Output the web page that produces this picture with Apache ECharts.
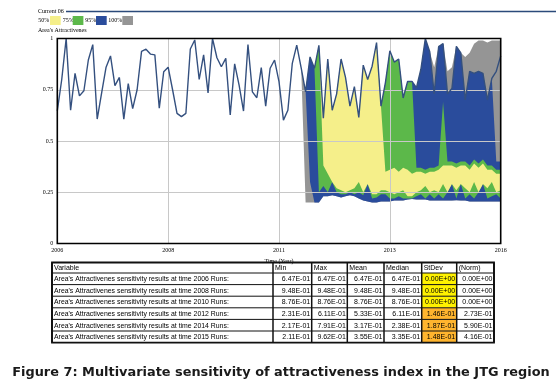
<!DOCTYPE html>
<html>
<head>
<meta charset="utf-8">
<script src="https://cdn.jsdelivr.net/npm/echarts@6/dist/echarts.min.js"></script>
<style>
  html, body { margin: 0; padding: 0; background: #fff; }
  #chart { width: 556px; height: 389px; }
</style>
</head>
<body>
<div id="chart"></div>
<script>
// saves every 0.1 year, 2006 -> 2016
const years = Array.from({ length: 101 }, (_, i) => (2006 + i / 10).toFixed(1));

// "Current 06" run
const current06 = [
  0.647, 0.80, 1.00, 0.65, 0.83, 0.72, 0.745, 0.895, 0.97, 0.607,
  0.735, 0.86, 0.915, 0.77, 0.81, 0.607, 0.78, 0.658, 0.75, 0.937,
  0.948, 0.924, 0.92, 0.66, 0.838, 0.86, 0.75, 0.635, 0.619, 0.635,
  0.949, 0.993, 0.80, 0.92, 0.735, 1.00, 0.906, 0.862, 0.903, 0.627,
  0.876, 0.773, 0.646, 0.971, 0.74, 0.711, 0.858, 0.67, 0.855, 0.895,
  0.79, 0.602, 0.65, 0.879, 0.968, 0.857, 0.74, 0.91, 0.855, 0.967,
  0.611, 0.90, 0.65, 0.73, 0.90, 0.81, 0.67, 0.765, 0.615, 0.87,
  0.80, 0.865, 0.98, 0.67, 0.785, 0.94, 0.885, 0.90, 0.71, 0.79,
  0.791, 0.76, 0.85, 1.00, 0.935, 0.73, 0.96, 0.975, 0.73, 0.756,
  0.962, 0.93, 0.70, 0.84, 0.83, 0.84, 0.83, 0.70, 0.805, 0.84,
  0.915
];

// sensitivity bands start at index 55 (2011.5)
const bandStart = 55;

const high100 = [
  0.857, 0.74, 0.91, 0.855, 0.967, 0.611, 0.90, 0.65, 0.73, 0.90,
  0.81, 0.67, 0.765, 0.615, 0.87, 0.80, 0.865, 0.98, 0.67, 0.785,
  0.94, 0.885, 0.90, 0.71, 0.79, 0.791, 0.76, 0.85, 1.00, 0.935,
  0.86, 0.96, 0.975, 0.84, 0.86, 0.962, 0.93, 0.91, 0.93, 0.975,
  0.99, 0.99, 0.98, 0.99, 0.99, 0.99
];
const low100 = [
  0.857, 0.20, 0.20, 0.20, 0.20, 0.231, 0.23, 0.235, 0.23, 0.225,
  0.23, 0.235, 0.23, 0.22, 0.21, 0.205, 0.20, 0.20, 0.205, 0.205,
  0.205, 0.21, 0.21, 0.21, 0.215, 0.217, 0.215, 0.215, 0.215, 0.21,
  0.21, 0.21, 0.21, 0.21, 0.21, 0.211, 0.21, 0.21, 0.205, 0.205,
  0.205, 0.205, 0.205, 0.205, 0.205, 0.205
];
const high95 = [
  0.857, 0.74, 0.91, 0.855, 0.967, 0.611, 0.90, 0.65, 0.73, 0.90,
  0.81, 0.67, 0.765, 0.615, 0.87, 0.80, 0.865, 0.98, 0.67, 0.785,
  0.94, 0.885, 0.90, 0.71, 0.79, 0.791, 0.76, 0.85, 1.00, 0.935,
  0.73, 0.96, 0.975, 0.73, 0.756, 0.962, 0.93, 0.70, 0.84, 0.83,
  0.84, 0.83, 0.70, 0.805, 0.40, 0.40
];
const low95 = [
  0.857, 0.74, 0.30, 0.20, 0.20, 0.231, 0.23, 0.235, 0.23, 0.225,
  0.23, 0.235, 0.23, 0.22, 0.21, 0.205, 0.20, 0.20, 0.205, 0.205,
  0.205, 0.21, 0.21, 0.21, 0.215, 0.217, 0.215, 0.215, 0.215, 0.21,
  0.21, 0.21, 0.21, 0.21, 0.21, 0.211, 0.21, 0.21, 0.205, 0.205,
  0.205, 0.205, 0.205, 0.205, 0.205, 0.205
];
const high75 = [
  0.857, 0.74, 0.91, 0.855, 0.967, 0.611, 0.90, 0.65, 0.73, 0.90,
  0.81, 0.67, 0.765, 0.615, 0.87, 0.80, 0.865, 0.98, 0.67, 0.785,
  0.94, 0.885, 0.90, 0.71, 0.79, 0.791, 0.37, 0.37, 0.36, 0.37,
  0.37, 0.38, 0.69, 0.40, 0.40, 0.39, 0.40, 0.40, 0.38, 0.41,
  0.39, 0.41, 0.38, 0.38, 0.36, 0.36
];
const low75 = [
  0.857, 0.74, 0.91, 0.855, 0.25, 0.28, 0.25, 0.30, 0.25, 0.24,
  0.24, 0.25, 0.24, 0.25, 0.235, 0.29, 0.22, 0.225, 0.24, 0.24,
  0.22, 0.22, 0.23, 0.22, 0.22, 0.22, 0.23, 0.24, 0.22, 0.24,
  0.22, 0.24, 0.22, 0.25, 0.29, 0.22, 0.29, 0.22, 0.24, 0.22,
  0.25, 0.29, 0.22, 0.23, 0.24, 0.22
];
const high50 = [
  0.857, 0.74, 0.91, 0.855, 0.967, 0.611, 0.90, 0.65, 0.73, 0.90,
  0.81, 0.67, 0.765, 0.615, 0.87, 0.80, 0.865, 0.98, 0.67, 0.35,
  0.36, 0.37, 0.35, 0.37, 0.36, 0.34, 0.35, 0.35, 0.34, 0.35,
  0.35, 0.36, 0.38, 0.38, 0.38, 0.37, 0.38, 0.38, 0.36, 0.39,
  0.37, 0.39, 0.36, 0.36, 0.34, 0.34
];
const low50 = [
  0.857, 0.74, 0.91, 0.855, 0.967, 0.38, 0.34, 0.30, 0.27, 0.26,
  0.25, 0.26, 0.27, 0.30, 0.25, 0.29, 0.24, 0.24, 0.26, 0.26,
  0.25, 0.24, 0.25, 0.26, 0.23, 0.23, 0.25, 0.26, 0.28, 0.25,
  0.26, 0.25, 0.29, 0.25, 0.29, 0.26, 0.29, 0.27, 0.25, 0.30,
  0.25, 0.29, 0.27, 0.30, 0.25, 0.26
];

const bandLabels = ['50%', '75%', '95%', '100%'];

// statistics table
const tableYears = [2006, 2008, 2010, 2012, 2014, 2015];
const tableMin = ['6.47E-01', '9.48E-01', '8.76E-01', '2.31E-01', '2.17E-01', '2.11E-01'];
const tableMax = ['6.47E-01', '9.48E-01', '8.76E-01', '6.11E-01', '7.91E-01', '9.62E-01'];
const tableMean = ['6.47E-01', '9.48E-01', '8.76E-01', '5.33E-01', '3.17E-01', '3.55E-01'];
const tableMedian = ['6.47E-01', '9.48E-01', '8.76E-01', '6.11E-01', '2.38E-01', '3.35E-01'];
const tableStDev = ['0.00E+00', '0.00E+00', '0.00E+00', '1.46E-01', '1.87E-01', '1.48E-01'];
const tableNorm = ['0.00E+00', '0.00E+00', '0.00E+00', '2.73E-01', '5.90E-01', '4.16E-01'];

const COLORS = { y: '#f5ef8a', g: '#5cb84a', b: '#2a4c9c', k: '#959595' };
const serif = 'Liberation Serif';
const sans = 'Liberation Sans';

const G = { left: 57.3, top: 38.5, width: 443.4, height: 205 };

const pad = arr => Array(bandStart).fill(null).concat(arr);

function band(name, low, high, color) {
  return [
    {
      name: name + '_base', type: 'line', stack: name, data: pad(low),
      symbol: 'none', lineStyle: { opacity: 0 }, silent: true, z: 2
    },
    {
      name: name, type: 'line', stack: name,
      data: pad(high.map((v, i) => +(v - low[i]).toFixed(4))),
      symbol: 'none', lineStyle: { opacity: 0 },
      areaStyle: { color: color, opacity: 1 }, silent: true, z: 2
    }
  ];
}

const chart = echarts.init(document.getElementById('chart'));

// header: run name, legend, variable name
const header = [
  { type: 'text', x: 38, y: 11.5, style: { text: 'Current 06', font: '6px ' + serif, fill: '#000', verticalAlign: 'middle' } },
  { type: 'line', shape: { x1: 66, y1: 11.5, x2: 556, y2: 11.5 }, style: { stroke: '#2b4a7a', lineWidth: 1.4 } },
  { type: 'text', x: 38, y: 30.5, style: { text: "Area's Attractivenes", font: '6px ' + serif, fill: '#000', verticalAlign: 'middle' } }
];
const legendX = [38.3, 62.7, 85.3, 108.3];
const legendBoxX = [50, 72.7, 96, 122.3];
const legendColors = [COLORS.y, COLORS.g, COLORS.b, COLORS.k];
bandLabels.forEach((t, i) => {
  header.push({ type: 'text', x: legendX[i], y: 20.5, style: { text: t, font: '6px ' + serif, fill: '#000', verticalAlign: 'middle' } });
  header.push({ type: 'rect', shape: { x: legendBoxX[i], y: 16, width: 10.7, height: 9 }, style: { fill: legendColors[i] } });
});

// plot frame
const frame = {
  type: 'rect', z: 100, silent: true,
  shape: { x: G.left, y: G.top, width: G.width, height: G.height },
  style: { fill: 'none', stroke: '#000', lineWidth: 1.6 }
};

// table
const colX = [52, 273, 311.7, 347.3, 384, 421.7, 456.7, 494];
const tTop = 262.5, hdrH = 10.5, rowH = 11.6;
const headers = ['Variable', 'Min', 'Max', 'Mean', 'Median', 'StDev', '(Norm)'];
const table = [];
const tBottom = tTop + hdrH + rowH * tableYears.length;
tableStDev.forEach((v, r) => {
  table.push({
    type: 'rect', z: 10,
    shape: { x: colX[5], y: tTop + hdrH + r * rowH, width: colX[6] - colX[5], height: rowH },
    style: { fill: r < 3 ? '#fff200' : '#ffb52e' }
  });
});
headers.forEach((h, c) => {
  table.push({ type: 'text', z: 12, x: colX[c] + 2, y: tTop + hdrH / 2 + 0.5, style: { text: h, font: '7px ' + sans, fill: '#000', verticalAlign: 'middle' } });
});
tableYears.forEach((yr, r) => {
  const cy = tTop + hdrH + rowH * (r + 0.5) + 0.5;
  const cells = [tableMin[r], tableMax[r], tableMean[r], tableMedian[r], tableStDev[r], tableNorm[r]];
  table.push({ type: 'text', z: 12, x: colX[0] + 2, y: cy, style: { text: "Area's Attractivenes sensitivity results at time " + yr + ' Runs:', font: '6.9px ' + sans, fill: '#000', verticalAlign: 'middle' } });
  cells.forEach((v, c) => {
    table.push({ type: 'text', z: 12, x: colX[c + 2] - 1.5, y: cy, style: { text: v, font: '7px ' + sans, fill: '#000', align: 'right', verticalAlign: 'middle' } });
  });
});
for (let r = 1; r <= tableYears.length; r++) {
  const y = tTop + hdrH + rowH * (r - 1);
  table.push({ type: 'line', z: 14, shape: { x1: colX[0], y1: y, x2: colX[7], y2: y }, style: { stroke: '#111', lineWidth: 1 } });
}
colX.forEach((x, c) => {
  table.push({ type: 'line', z: 14, shape: { x1: x, y1: tTop, x2: x, y2: tBottom }, style: { stroke: '#111', lineWidth: c === 0 || c === 7 ? 1.8 : 1.5 } });
});
table.push({ type: 'rect', z: 14, shape: { x: colX[0], y: tTop, width: colX[7] - colX[0], height: tBottom - tTop }, style: { fill: 'none', stroke: '#111', lineWidth: 1.8 } });

const caption = {
  type: 'text', x: 281, y: 372.5,
  style: { text: 'Figure 7: Multivariate sensitivity of attractiveness index in the JTG region', font: 'bold 12.9px "DejaVu Sans"', fill: '#1a1a1a', align: 'center', verticalAlign: 'middle' }
};

chart.setOption({
  animation: false,
  grid: { left: G.left, top: G.top, width: G.width, height: G.height, containLabel: false },
  xAxis: {
    type: 'category', data: years, boundaryGap: false, z: 3,
    axisLine: { show: false }, axisTick: { show: false },
    axisLabel: {
      interval: 24, margin: 4, color: '#000', fontFamily: serif, fontSize: 6,
      formatter: v => String(Math.floor(+v))
    },
    splitLine: { show: true, interval: 24, lineStyle: { color: '#c8c8c8', width: 1 } },
    name: 'Time (Year)', nameLocation: 'middle', nameGap: 13,
    nameTextStyle: { color: '#000', fontFamily: serif, fontSize: 6 }
  },
  yAxis: {
    type: 'value', min: 0, max: 1, interval: 0.25, z: 3,
    axisLine: { show: false }, axisTick: { show: false },
    axisLabel: { margin: 4, color: '#000', fontFamily: serif, fontSize: 6 },
    splitLine: { lineStyle: { color: '#c8c8c8', width: 1 } }
  },
  series: [
    ...band('b100', low100, high100, COLORS.k),
    ...band('b95', low95, high95, COLORS.b),
    ...band('b75', low75, high75, COLORS.g),
    ...band('b50', low50, high50, COLORS.y),
    {
      name: 'Current 06', type: 'line', data: current06, symbol: 'none', z: 4,
      lineStyle: { color: '#34507f', width: 1.4 }
    }
  ],
  graphic: [...header, frame, ...table, caption]
});
</script>
</body>
</html>
